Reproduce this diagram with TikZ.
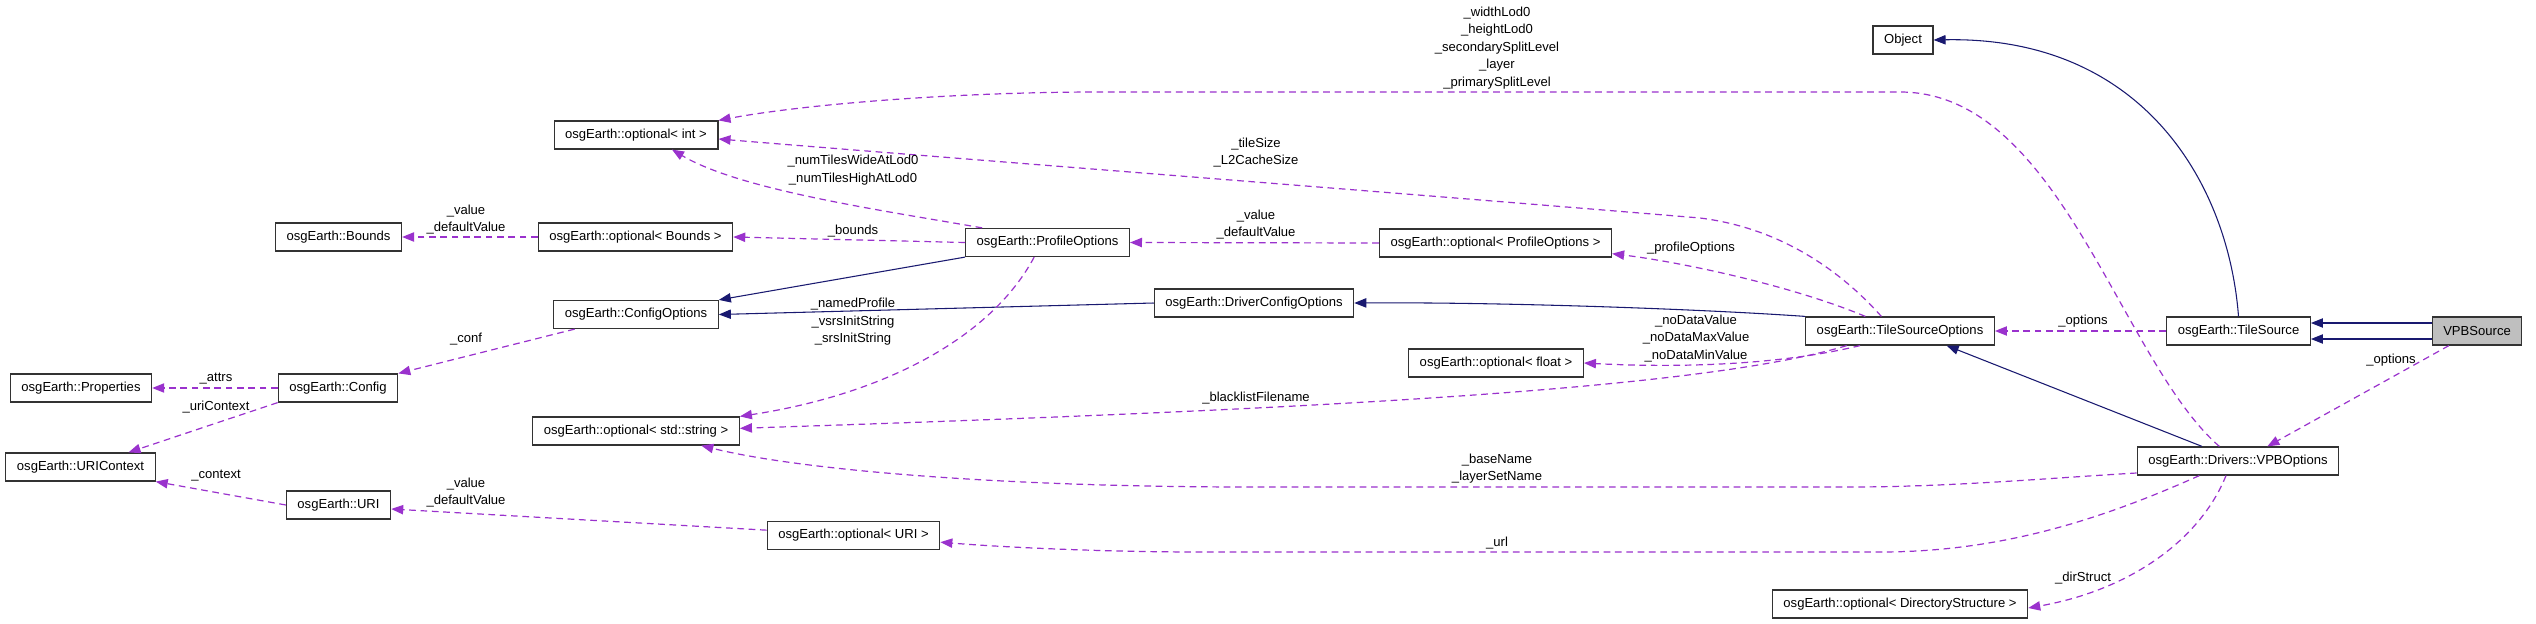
\documentclass[tikz,border=0pt]{standalone}
\usepackage{fontspec}
\setmainfont{Liberation Sans}
\usetikzlibrary{arrows.meta}

\definecolor{inhblue}{RGB}{25,25,112}
\definecolor{usepurple}{RGB}{154,50,205}

\begin{document}
\begin{tikzpicture}[
    x=0.75pt, y=-0.75pt,
    cls/.style={draw=black!80, line width=0.9pt, rectangle, minimum height=21pt, inner xsep=8.3pt, inner ysep=0pt, fill=white},
    focus/.style={cls, fill=black!25},
    inherit/.style={-{Triangle[length=9pt,width=7pt]}, draw=inhblue, line width=0.8pt},
    uses/.style={-{Triangle[length=9pt,width=7pt]}, draw=usepurple, line width=0.9pt, dash pattern=on 5pt off 3.5pt},
    lbl/.style={inner sep=0pt, align=center},
    font=\fontsize{9.8}{13.1}\selectfont
]
\fill[white] (0,0) rectangle (2536,624);
\useasboundingbox (0,0) rectangle (2536,624);

% Classes
\node[cls] (object) at (1903,40) {Object};
\node[cls] (optint) at (636,135) {osgEarth::optional< int >};
\node[cls] (bounds) at (338.5,237) {osgEarth::Bounds};
\node[cls] (optbounds) at (635.5,237) {osgEarth::optional< Bounds >};
\node[cls] (profopts) at (1047.5,242.5) {osgEarth::ProfileOptions};
\node[cls] (optprof) at (1495.5,243) {osgEarth::optional< ProfileOptions >};
\node[cls] (confopts) at (636,314.5) {osgEarth::ConfigOptions};
\node[cls] (drvconf) at (1254,303) {osgEarth::DriverConfigOptions};
\node[cls] (tsopts) at (1900,331) {osgEarth::TileSourceOptions};
\node[cls] (tilesrc) at (2238.5,331) {osgEarth::TileSource};
\node[focus] (vpbsrc) at (2477,331) {VPBSource};
\node[cls] (optfloat) at (1496,363) {osgEarth::optional< float >};
\node[cls] (props) at (81,388) {osgEarth::Properties};
\node[cls] (config) at (338,388) {osgEarth::Config};
\node[cls] (optstr) at (636,431) {osgEarth::optional< std::string >};
\node[cls] (uricontext) at (80.5,467) {osgEarth::URIContext};
\node[cls] (uri) at (338.5,505) {osgEarth::URI};
\node[cls] (opturi) at (853.5,535.5) {osgEarth::optional< URI >};
\node[cls] (vpbopts) at (2238,461) {osgEarth::Drivers::VPBOptions};
\node[cls] (optdir) at (1900,604) {osgEarth::optional< DirectoryStructure >};

% Inheritance
\draw[inherit] (tilesrc.north) .. controls (2228,180) and (2140,36) .. (object.east);
\draw[inherit] ([yshift=6pt]vpbsrc.west) -- ([yshift=6pt]tilesrc.east);
\draw[inherit] ([yshift=-6pt]vpbsrc.west) -- ([yshift=-6pt]tilesrc.east);
\draw[inherit] ([xshift=-27pt]vpbopts.north) -- ([xshift=35pt]tsopts.south);
\draw[inherit] (tsopts.north west) .. controls (1700,309) and (1500,302) .. (drvconf.east);
\draw[inherit] (drvconf.west) -- (confopts.east);
\draw[inherit] (profopts.south west) -- (confopts.north east);

% Usage
\draw[uses] (tilesrc.west) -- (tsopts.east);
\draw[uses] ([xshift=13pt]vpbsrc.south west) -- ([xshift=22pt]vpbopts.north);
\draw[uses] (optbounds.west) -- (bounds.east);
\draw[uses] (profopts.west) -- (optbounds.east);
\draw[uses] ([xshift=-49pt]profopts.north) .. controls (880,210) and (740,190) .. ([xshift=27pt]optint.south);
\draw[uses] (optprof.west) -- (profopts.east);
\draw[uses] ([xshift=-26pt]tsopts.north) .. controls (1790,285) and (1680,262) .. ([yshift=-8pt]optprof.east);
\draw[uses] ([xshift=-14pt]tsopts.north) .. controls (1840,270) and (1780,228) .. (1700,218)
    .. controls (1400,193) and (1000,162) .. ([yshift=-3pt]optint.east);
\draw[uses] ([xshift=-14pt]vpbopts.north) .. controls (2120,360) and (2060,92) .. (1900,92)
    -- (1100,92) .. controls (950,92) and (800,105) .. (optint.north east);
\draw[uses] ([xshift=-30pt]tsopts.south) .. controls (1780,365) and (1680,368) .. (optfloat.east);
\draw[uses] ([xshift=-40pt]tsopts.south) .. controls (1700,390) and (1300,410) .. ([yshift=2pt]optstr.east);
\draw[uses] ([xshift=-10pt]profopts.south) .. controls (990,340) and (880,395) .. (optstr.north east);
\draw[uses] ([yshift=-9pt]vpbopts.west) .. controls (2050,478) and (1950,487) .. (1850,487)
    -- (1250,487) .. controls (1000,487) and (800,470) .. ([xshift=49pt]optstr.south);
\draw[uses] ([xshift=-29pt]vpbopts.south) .. controls (2100,520) and (2000,552) .. (1880,552)
    -- (1200,552) .. controls (1100,552) and (1000,547) .. ([yshift=-5pt]opturi.east);
\draw[uses] ([xshift=-9pt]vpbopts.south) .. controls (2200,540) and (2130,590) .. ([yshift=-3pt]optdir.east);
\draw[uses] ([yshift=4pt]opturi.west) -- ([yshift=-3pt]uri.east);
\draw[uses] (uri.west) -- (uricontext.south east);
\draw[uses] (config.south west) -- ([xshift=36pt]uricontext.north);
\draw[uses] (config.west) -- (props.east);
\draw[uses] ([xshift=-46pt]confopts.south) -- (config.north east);

% Labels
\node[lbl] (lbltop) at (1497,48) {\_widthLod0\\\_heightLod0\\\_secondarySplitLevel\\\_layer\\\_primarySplitLevel};
\node[lbl] (lbltile) at (1256,152.5) {\_tileSize\\\_L2CacheSize};
\node[lbl] (lblnumtiles) at (853,170) {\_numTilesWideAtLod0\\\_numTilesHighAtLod0};
\node[lbl] (lblboundsval) at (466,219.5) {\_value\\\_defaultValue};
\node[lbl] (lblbounds) at (853,231) {\_bounds};
\node[lbl] (lblprofval) at (1256,224.5) {\_value\\\_defaultValue};
\node[lbl] (lblprofopts) at (1691,248) {\_profileOptions};
\node[lbl] (lblnamed) at (853,322) {\_namedProfile\\\_vsrsInitString\\\_srsInitString};
\node[lbl] (lblnodata) at (1696,338.5) {\_noDataValue\\\_noDataMaxValue\\\_noDataMinValue};
\node[lbl] (lblblack) at (1256,398) {\_blacklistFilename};
\node[lbl] (lblbase) at (1497,468.5) {\_baseName\\\_layerSetName};
\node[lbl] (lblurl) at (1497,543) {\_url};
\node[lbl] (lbldir) at (2083,578) {\_dirStruct};
\node[lbl] (lblopts) at (2083,321) {\_options};
\node[lbl] (lbloptsvpb) at (2391,360) {\_options};
\node[lbl] (lblconf) at (466,339) {\_conf};
\node[lbl] (lblattrs) at (216,379) {\_attrs};
\node[lbl] (lbluribctx) at (216,407) {\_uriContext};
\node[lbl] (lblctx) at (216,476) {\_context};
\node[lbl] (lblurival) at (466,492.5) {\_value\\\_defaultValue};

\end{tikzpicture}
\end{document}
